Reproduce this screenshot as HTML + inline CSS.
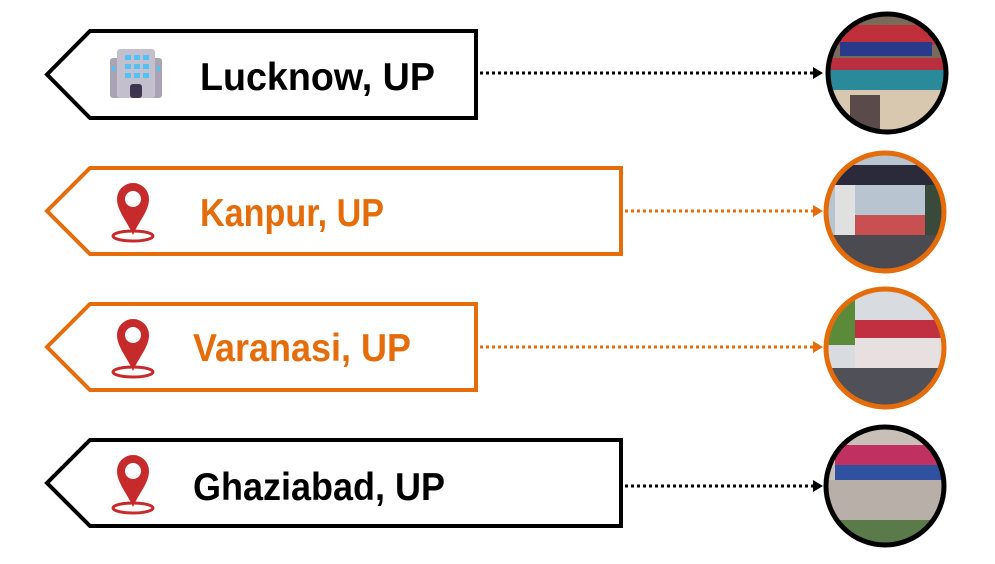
<!DOCTYPE html>
<html><head><style>
body{margin:0;background:#fff;width:995px;height:564px;overflow:hidden}
svg{display:block}
text{font-family:"Liberation Sans",sans-serif;font-weight:bold;font-size:39px}
</style></head><body>
<svg width="995" height="564" viewBox="0 0 995 564">
<defs>
<marker id="ab" markerWidth="10" markerHeight="12" refX="9" refY="6" orient="auto" markerUnits="userSpaceOnUse"><path d="M0,0 L10,6 L0,12z" fill="#000"/></marker>
<marker id="ao" markerWidth="10" markerHeight="12" refX="9" refY="6" orient="auto" markerUnits="userSpaceOnUse"><path d="M0,0 L10,6 L0,12z" fill="#e46c0a"/></marker>
<g id="pin"><path d="M0,-30 a16,16 0 0 1 16,16 c0,12 -10,22 -16,36 c-6,-14 -16,-24 -16,-36 a16,16 0 0 1 16,-16z" fill="#c62a2a"/><circle cx="0" cy="-14" r="8" fill="#fff"/><ellipse cx="0" cy="23" rx="20" ry="5" fill="none" stroke="#c62a2a" stroke-width="3"/></g>
<clipPath id="c1"><circle cx="887" cy="73" r="59"/></clipPath>
<clipPath id="c2"><circle cx="885" cy="212" r="59"/></clipPath>
<clipPath id="c3"><circle cx="885" cy="348" r="59"/></clipPath>
<clipPath id="c4"><circle cx="885" cy="486" r="59"/></clipPath>
</defs>
<path d="M90,31 H476 V118 H90 L47,74.5z" fill="#fff" stroke="#000" stroke-width="4"/>
<path d="M90,168 H621 V254 H90 L47,211z" fill="#fff" stroke="#e46c0a" stroke-width="4"/>
<path d="M90,304 H476 V390 H90 L47,347z" fill="#fff" stroke="#e46c0a" stroke-width="4"/>
<path d="M90,440 H621 V526 H90 L47,483z" fill="#fff" stroke="#000" stroke-width="4"/>
<rect x="110" y="58" width="52" height="40" rx="3" fill="#a9a3b3"/>
<rect x="117" y="49" width="38" height="49" rx="3" fill="#c4bfcc"/>
<g fill="#4fc3f7"><rect x="125" y="55" width="6" height="5"/><rect x="134" y="55" width="6" height="5"/><rect x="143" y="55" width="6" height="5"/><rect x="125" y="64" width="6" height="5"/><rect x="134" y="64" width="6" height="5"/><rect x="143" y="64" width="6" height="5"/><rect x="125" y="73" width="6" height="5"/><rect x="134" y="73" width="6" height="5"/><rect x="143" y="73" width="6" height="5"/><rect x="112" y="66" width="3" height="5"/><rect x="157" y="66" width="3" height="5"/></g>
<rect x="130" y="84" width="12" height="14" rx="3" fill="#3d3550"/>
<use href="#pin" x="133" y="213"/>
<use href="#pin" x="133" y="349"/>
<use href="#pin" x="133" y="485"/>
<text x="200" y="90" fill="#000" textLength="235" lengthAdjust="spacingAndGlyphs">Lucknow, UP</text>
<text x="200" y="226" fill="#e46c0a" textLength="184" lengthAdjust="spacingAndGlyphs">Kanpur, UP</text>
<text x="193" y="361" fill="#e46c0a" textLength="218" lengthAdjust="spacingAndGlyphs">Varanasi, UP</text>
<text x="193" y="500" fill="#000" textLength="252" lengthAdjust="spacingAndGlyphs">Ghaziabad, UP</text>
<line x1="480" y1="73" x2="822" y2="73" stroke="#000" stroke-width="3" stroke-dasharray="3,3" marker-end="url(#ab)"/>
<line x1="625" y1="211" x2="822" y2="211" stroke="#e46c0a" stroke-width="3" stroke-dasharray="3,3" marker-end="url(#ao)"/>
<line x1="480" y1="347" x2="822" y2="347" stroke="#e46c0a" stroke-width="3" stroke-dasharray="3,3" marker-end="url(#ao)"/>
<line x1="625" y1="486" x2="822" y2="486" stroke="#000" stroke-width="3" stroke-dasharray="3,3" marker-end="url(#ab)"/>
<g clip-path="url(#c1)"><rect x="820" y="10" width="140" height="130" fill="#7a6a5a"/><rect x="835" y="25" width="100" height="20" fill="#c0303a"/><rect x="840" y="42" width="92" height="14" fill="#2a3a8a"/><rect x="825" y="58" width="130" height="12" fill="#b83040"/><rect x="825" y="70" width="130" height="20" fill="#2a8a9a"/><rect x="825" y="90" width="130" height="50" fill="#d8c8b0"/><rect x="850" y="95" width="30" height="40" fill="#5a4a4a"/></g>
<circle cx="887" cy="73" r="59" fill="none" stroke="#000" stroke-width="5"/>
<g clip-path="url(#c2)"><rect x="820" y="150" width="140" height="130" fill="#b8c4d0"/><rect x="835" y="165" width="110" height="20" fill="#2a2a3a"/><rect x="835" y="185" width="20" height="70" fill="#e0e0e0"/><rect x="925" y="185" width="20" height="70" fill="#3a4a3a"/><rect x="855" y="215" width="70" height="20" fill="#c85050"/><rect x="825" y="235" width="130" height="40" fill="#4a4a50"/></g>
<circle cx="885" cy="212" r="59" fill="none" stroke="#e46c0a" stroke-width="5"/>
<g clip-path="url(#c3)"><rect x="820" y="285" width="140" height="130" fill="#d8dce0"/><rect x="825" y="285" width="30" height="60" fill="#5a8a3a"/><rect x="855" y="320" width="100" height="18" fill="#c03040"/><rect x="855" y="338" width="100" height="30" fill="#e8e0e0"/><rect x="825" y="368" width="130" height="40" fill="#505058"/></g>
<circle cx="885" cy="348" r="59" fill="none" stroke="#e46c0a" stroke-width="5"/>
<g clip-path="url(#c4)"><rect x="820" y="425" width="140" height="130" fill="#c8c0b8"/><rect x="835" y="445" width="110" height="20" fill="#c03060"/><rect x="835" y="465" width="110" height="15" fill="#3050a0"/><rect x="825" y="480" width="130" height="40" fill="#b8b0a8"/><rect x="825" y="520" width="130" height="30" fill="#5a7a4a"/></g>
<circle cx="885" cy="486" r="59" fill="none" stroke="#000" stroke-width="5"/>
</svg>
</body></html>
